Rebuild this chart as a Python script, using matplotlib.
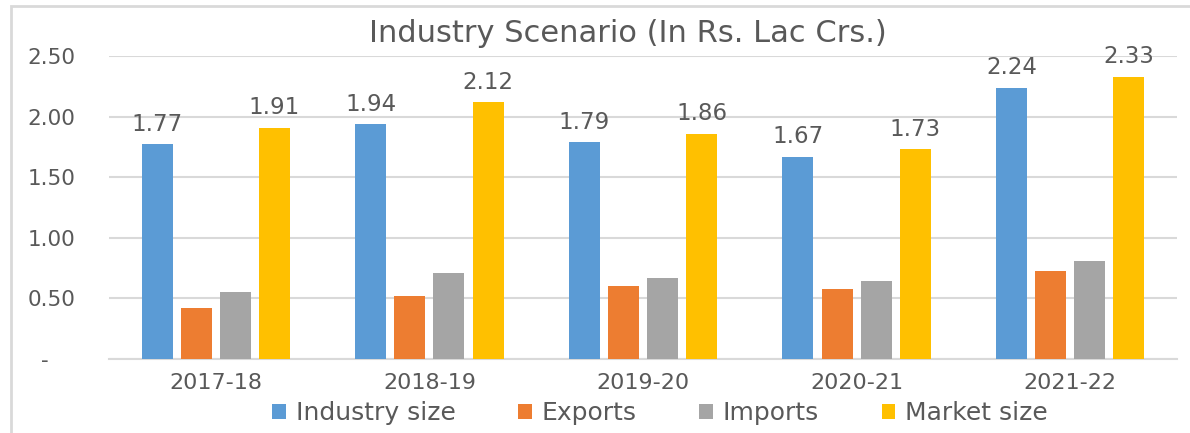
import matplotlib
matplotlib.use("Agg")
import matplotlib.pyplot as plt
import numpy as np
from matplotlib.patches import Rectangle

categories = ["2017-18", "2018-19", "2019-20", "2020-21", "2021-22"]
industry_size = [1.77, 1.94, 1.79, 1.67, 2.24]
exports = [0.42, 0.52, 0.60, 0.58, 0.73]
imports = [0.55, 0.71, 0.67, 0.64, 0.81]
market_size = [1.91, 2.12, 1.86, 1.73, 2.33]
series_names = ["Industry size", "Exports", "Imports", "Market size"]
y_ticks = [0, 0.5, 1.0, 1.5, 2.0, 2.5]
y_tick_labels = ["-    ", "0.50", "1.00", "1.50", "2.00", "2.50"]

colors = ["#5B9BD5", "#ED7D31", "#A5A5A5", "#FFC000"]
text_color = "#595959"
grid_color = "#D9D9D9"

plt.rcParams['font.family'] = ['DejaVu Sans']

W, H = 1190, 433
fig = plt.figure(figsize=(W / 100, H / 100), dpi=100)
left, right, bottom_px, top_px = 109, 1177, 359, 56
ax = fig.add_axes([left / W, (H - bottom_px) / H, (right - left) / W, (bottom_px - top_px) / H])

x = np.arange(len(categories))
width = 0.145
step = 0.183
all_series = [industry_size, exports, imports, market_size]
for i, (vals, c, name) in enumerate(zip(all_series, colors, series_names)):
    offs = (i - 1.5) * step
    bars = ax.bar(x + offs, vals, width, color=c, label=name, zorder=3)
    if i in (0, 3):
        for b, v in zip(bars, vals):
            ax.annotate(f"{v:.2f}", (b.get_x() + b.get_width() / 2, v),
                        xytext=(0, 6), textcoords="offset points",
                        ha="center", va="bottom", fontsize=16.5,
                        color=text_color, clip_on=False, zorder=4)

ax.set_xlim(-0.5, len(categories) - 0.5)
ax.set_ylim(0, 2.5)
ax.set_yticks(y_ticks)
ax.set_yticklabels(y_tick_labels)
ax.set_xticks(x)
ax.set_xticklabels(categories)
ax.tick_params(axis="y", length=0, pad=24, labelsize=15.5, labelcolor=text_color)
ax.tick_params(axis="x", length=0, pad=10, labelsize=16, labelcolor=text_color)
ax.grid(axis="y", color=grid_color, linewidth=1.5, zorder=0)
ax.set_axisbelow(True)
for s in ["top", "right", "left"]:
    ax.spines[s].set_visible(False)
ax.spines["bottom"].set_color(grid_color)
ax.spines["bottom"].set_linewidth(1.5)

fig.text(628 / W, (H - 33) / H, "Industry Scenario (In Rs. Lac Crs.)",
         ha="center", va="center", fontsize=22, color=text_color)

leg = fig.legend(loc="center", bbox_to_anchor=(660 / W, (H - 413) / H),
                 ncol=4, frameon=False, fontsize=18, handlelength=0.55,
                 handleheight=0.55, handletextpad=0.4, columnspacing=2.5)
for t in leg.get_texts():
    t.set_color(text_color)

fig.patches.append(Rectangle((11 / W, -0.1), 1.2, (H - 6) / H + 0.1,
                             transform=fig.transFigure, fill=False,
                             edgecolor=grid_color, linewidth=2))

fig.savefig("out.png", dpi=100)
